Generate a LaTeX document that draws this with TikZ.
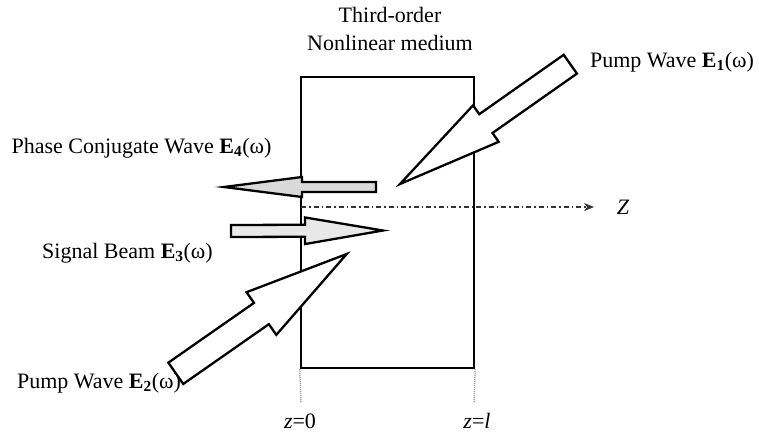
\documentclass[tikz,border=0pt]{standalone}
\usepackage{fontspec}
\setmainfont{Liberation Serif}
\usetikzlibrary{arrows.meta, positioning, calc}

% block arrow: tail, tip, fill, half shaft width, half head width, head length
\newcommand{\beam}[6]{%
  \coordinate (hb) at ($(#2)!#6!(#1)$);
  \draw[beamline, fill=#3] ($(#1)!#4!90:(#2)$) -- ($(hb)!#4!-90:(#1)$) -- ($(hb)!#5!-90:(#1)$) -- (#2)
    -- ($(hb)!#5!90:(#1)$) -- ($(hb)!#4!90:(#1)$) -- ($(#1)!#4!-90:(#2)$) -- cycle;
}

\begin{document}
\begin{tikzpicture}[x=1pt, y=-1pt,
    every node/.style={font=\fontsize{22}{28}\selectfont},
    beamline/.style={line width=2.3pt, line join=miter},
    rim/.style={draw, line width=2.5pt, minimum width=173pt, minimum height=291pt, inner sep=0pt},
    guide/.style={gray!80, line width=1.5pt, dash pattern=on 1pt off 1pt},
    axis/.style={line width=1.1pt, black!80, dash pattern=on 5pt off 3pt on 1.5pt off 3pt, -{Stealth[length=10pt, width=8pt]}}]

    \useasboundingbox (0,0) rectangle (759,434);

    % Medium
    \node[rim] (medium) at (387.5,222.5) {};
    \node[align=center] (title) at (390,29) {Third-order\\Nonlinear medium};

    % Faces z=0 and z=l
    \coordinate (face0) at (301,403);
    \coordinate (facel) at (474,403);
    \draw[guide] (medium.south west) -- (face0);
    \draw[guide] (medium.south east) -- (facel);
    \node (face0label) at (300,421) {\textit{z}=0};
    \node (facellabel) at (477,421) {\textit{z}=\textit{l}};

    % Axis
    \coordinate (zstart) at (301,207);
    \coordinate (zend) at (594,207);
    \draw[axis] (zstart) -- (zend);
    \node (zlabel) at (623,207) {\textit{Z}};

    % Beams
    \coordinate (pumpAtail) at (570.3,64.2);
    \coordinate (pumpAtip) at (400,184);
    \coordinate (pumpBtail) at (175.8,373.3);
    \coordinate (pumpBtip) at (346.7,254);
    \coordinate (conjtail) at (376,187);
    \coordinate (conjtip) at (224,187);
    \coordinate (signaltail) at (231,231);
    \coordinate (signaltip) at (383,230.5);
    \beam{pumpAtail}{pumpAtip}{white}{11.5pt}{22.3pt}{105pt}
    \beam{pumpBtail}{pumpBtip}{white}{13pt}{26pt}{104pt}
    \beam{conjtail}{conjtip}{gray!30}{5pt}{10pt}{78pt}
    \beam{signaltail}{signaltip}{gray!18}{6pt}{13.3pt}{78pt}

    % Labels
    \node (pumpAlabel) at (672,62) {Pump Wave \textbf{E\textsubscript{1}}(ω)};
    \node (conjlabel) at (141.5,148) {Phase Conjugate Wave \textbf{E\textsubscript{4}}(ω)};
    \node (signallabel) at (127.5,253) {Signal Beam \textbf{E\textsubscript{3}}(ω)};
    \node (pumpBlabel) at (99,383) {Pump Wave \textbf{E\textsubscript{2}}(ω)};
\end{tikzpicture}
\end{document}
